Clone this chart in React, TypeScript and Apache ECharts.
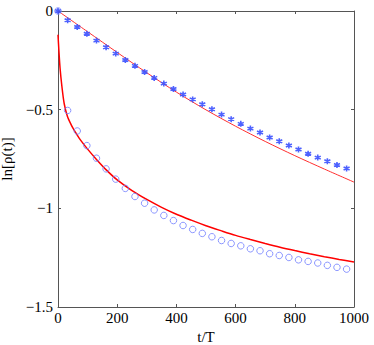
import React, { useEffect, useRef } from "react";
import * as echarts from "echarts";

// Sample times (t/T) for the marker series
const tMarks = [0, 32.5, 65, 97.5, 130, 162.5, 195, 227.5, 260, 292.5, 325, 357.5, 390, 422.5, 455, 487.5, 520, 552.5, 585, 617.5, 650, 682.5, 715, 747.5, 780, 812.5, 845, 877.5, 910, 942.5, 975];

// Upper data (asterisks)
const starVals = [0, -0.047, -0.081, -0.115, -0.150, -0.184, -0.216, -0.248, -0.278, -0.309, -0.339, -0.368, -0.395, -0.423, -0.448, -0.473, -0.498, -0.525, -0.548, -0.572, -0.596, -0.616, -0.641, -0.660, -0.682, -0.702, -0.723, -0.743, -0.761, -0.780, -0.798];

// Lower data (circles)
const circleVals = [0, -0.504, -0.608, -0.682, -0.746, -0.800, -0.852, -0.899, -0.940, -0.974, -1.008, -1.036, -1.062, -1.087, -1.107, -1.127, -1.144, -1.163, -1.178, -1.190, -1.205, -1.215, -1.230, -1.239, -1.249, -1.261, -1.269, -1.277, -1.289, -1.299, -1.308];

// Upper red curve
const upperT = [0, 100, 200, 300, 400, 500, 600, 700, 800, 900, 1000];
const upperV = [0, -0.105, -0.21, -0.313, -0.411, -0.501, -0.584, -0.661, -0.733, -0.801, -0.867];

// Lower red curve
const lowerT = [0, 3, 7, 13, 21, 32, 45, 58, 75, 100, 130, 163, 200, 250, 300, 350, 400, 450, 500, 550, 600, 650, 700, 750, 800, 850, 900, 950, 1000];
const lowerV = [-0.12, -0.2, -0.29, -0.38, -0.47, -0.535, -0.578, -0.612, -0.652, -0.70, -0.752, -0.805, -0.856, -0.91, -0.955, -0.995, -1.03, -1.06, -1.088, -1.113, -1.137, -1.158, -1.178, -1.197, -1.214, -1.23, -1.245, -1.259, -1.272];

const xTicks = { min: 0, max: 1000, interval: 200 };
const yTicks = { min: -1.5, max: 0, interval: 0.5 };

const FONT = "Liberation Serif";
const AXIS_COLOR = "#555555";

function zip(a: number[], b: number[]) {
  return a.map((x, i) => [x, b[i]]);
}

export default function App() {
  const ref = useRef<HTMLDivElement>(null);
  useEffect(() => {
    if (!ref.current) return;
    const chart = echarts.init(ref.current, null, { renderer: "svg" });
    const fmtY = (v: number) => (v === 0 ? "0" : String(v).replace("-", "\u2212"));
    const baseAxis = {
      axisLine: { show: true, onZero: false, lineStyle: { color: AXIS_COLOR, width: 1 } },
      axisTick: { show: true, inside: true, length: 3, lineStyle: { color: AXIS_COLOR } },
      splitLine: { show: false },
    };
    chart.setOption({
      animation: false,
      backgroundColor: "#ffffff",
      grid: { left: 58, top: 11, right: 20, bottom: 38, containLabel: false, outerBoundsMode: "none" },
      xAxis: [
        {
          type: "value",
          position: "bottom",
          ...xTicks,
          ...baseAxis,
          axisLabel: { color: "#000", fontFamily: FONT, fontSize: 15, margin: 3, formatter: (v: number) => String(v) },
          name: "t/T",
          nameLocation: "middle",
          nameGap: 18,
          nameTextStyle: { color: "#000", fontFamily: FONT, fontSize: 15 },
        },
        {
          type: "value",
          position: "top",
          ...xTicks,
          ...baseAxis,
          axisLabel: { show: false },
        },
      ],
      yAxis: [
        {
          type: "value",
          position: "left",
          ...yTicks,
          ...baseAxis,
          axisLabel: { color: "#000", fontFamily: FONT, fontSize: 15, margin: 5, formatter: fmtY },
          name: "ln[\u03c1(t)]",
          nameLocation: "middle",
          nameRotate: 90,
          nameGap: 36,
          nameTextStyle: { color: "#000", fontFamily: FONT, fontSize: 15 },
        },
        {
          type: "value",
          position: "right",
          ...yTicks,
          ...baseAxis,
          axisLabel: { show: false },
        },
      ],
      series: [
        {
          type: "line",
          data: zip(upperT, upperV),
          smooth: 0.3,
          showSymbol: false,
          lineStyle: { color: "#ff3030", width: 1 },
          z: 2,
        },
        {
          type: "line",
          data: zip(lowerT, lowerV),
          smooth: 0.3,
          showSymbol: false,
          lineStyle: { color: "#ff0000", width: 1.5 },
          z: 2,
        },
        {
          type: "scatter",
          data: zip(tMarks, starVals),
          symbol: "path://M0,-5L0,5M-4.33,-2.5L4.33,2.5M-4.33,2.5L4.33,-2.5",
          symbolSize: 6,
          clip: false,
          itemStyle: { color: "#3a50ff", borderColor: "#3a50ff", borderWidth: 1.6, opacity: 0.9 },
          z: 3,
        },
        {
          type: "scatter",
          data: zip(tMarks, circleVals),
          symbol: "circle",
          symbolSize: 6.5,
          clip: false,
          itemStyle: { color: "rgba(0,0,0,0)", borderColor: "#6f7dff", borderWidth: 1 },
          z: 3,
        },
      ],
    });
    return () => chart.dispose();
  }, []);
  return (
    <div
      ref={ref}
      style={{ position: "fixed", left: 0, top: 0, width: 374, height: 345, background: "#fff" }}
    />
  );
}
